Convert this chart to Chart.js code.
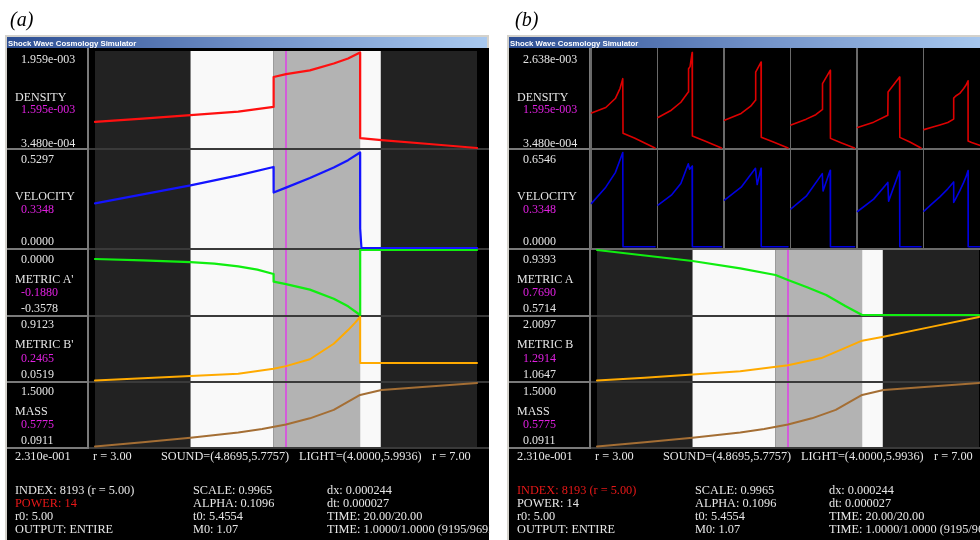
<!DOCTYPE html>
<html>
<head>
<meta charset="utf-8">
<script src="https://cdn.jsdelivr.net/npm/chart.js@4/dist/chart.umd.min.js"></script>
<style>
html, body { margin: 0; padding: 0; background: #fff; }
body { width: 980px; height: 540px; position: relative; overflow: hidden; }
.abs { position: absolute; }
.t { position: absolute; white-space: pre; line-height: 1; will-change: transform; }
</style>
</head>
<body>
<script>
// ---- radial domain, fronts and cursor -------------------------------------
const R_MIN = 3.0, R_MAX = 7.0;
const CURSOR_R = 5.00;
const LIGHT = [4.0000, 5.9936];
const SOUND = [4.8695, 5.7757];
const LOWER_LEFT = 2.310e-1;

// ---- final state (window a, and last snapshot of window b) ----------------
const densR = [3.0, 3.5, 4.0, 4.5, 4.8695, 4.8705, 5.0, 5.25, 5.5, 5.65, 5.7757, 5.7767, 6.0, 6.5, 7.0];
const densV = [7.89e-4, 8.45e-4, 9.02e-4, 9.61e-4, 1.041e-3, 1.545e-3, 1.595e-3, 1.657e-3, 1.774e-3, 1.858e-3, 1.959e-3, 5.16e-4, 4.82e-4, 4.15e-4, 3.48e-4];

const velR = [3.0, 3.5, 4.0, 4.5, 4.8695, 4.8705, 5.0, 5.25, 5.5, 5.65, 5.7757, 5.7767, 5.79, 7.0];
const velV = [0.2474, 0.2976, 0.347, 0.4025, 0.4494, 0.3075, 0.3348, 0.3877, 0.447, 0.487, 0.5297, 0.1092, 0.0, 0.0];

const metADR = [3.0, 3.5, 4.0, 4.25, 4.5, 4.7, 4.8695, 4.8705, 5.0, 5.25, 5.5, 5.65, 5.7757, 5.7767, 7.0];
const metADV = [-0.0495, -0.057, -0.067, -0.075, -0.090, -0.108, -0.132, -0.1745, -0.1880, -0.218, -0.268, -0.310, -0.3578, 0.0, 0.0];

const metBDR = [3.0, 3.5, 4.0, 4.5, 4.8695, 5.0, 5.25, 5.5, 5.65, 5.72, 5.7757, 5.7767, 7.0];
const metBDV = [0.0519, 0.083, 0.1134, 0.1434, 0.2117, 0.2465, 0.34, 0.55, 0.735, 0.83, 0.9123, 0.2882, 0.2882];

const massR = [3.0, 3.5, 4.0, 4.5, 4.75, 5.0, 5.25, 5.5, 5.7757, 6.0, 6.5, 7.0];
const massV = [0.0911, 0.185, 0.285, 0.40, 0.48, 0.5775, 0.716, 0.903, 1.234, 1.345, 1.42, 1.5];

const metAR = [3.0, 3.5, 4.0, 4.5, 4.8695, 5.0, 5.2, 5.4, 5.6, 5.7757, 7.0];
const metAV = [0.9393, 0.9082, 0.877, 0.8357, 0.7978, 0.7690, 0.7282, 0.6846, 0.6223, 0.5714, 0.5714];

const metBR = [3.0, 3.5, 4.0, 4.5, 5.0, 5.35, 5.63, 5.7757, 6.0, 6.5, 7.0];
const metBV = [1.0647, 1.107, 1.153, 1.2014, 1.2914, 1.3984, 1.5689, 1.657, 1.716, 1.863, 2.0097];

// ---- time snapshots (window b, top two rows) ------------------------------
const snapDensR = [
  [3.0, 3.9, 4.5, 4.8, 4.97, 4.985, 5.7, 7.0],
  [3.0, 3.84, 4.44, 4.91, 4.925, 5.02, 5.15, 5.165, 5.95, 7.0],
  [3.0, 4.05, 4.65, 4.95, 4.965, 5.30, 5.315, 6.16, 7.0],
  [3.0, 3.96, 4.56, 4.97, 4.985, 5.47, 5.485, 6.19, 7.0],
  [3.0, 4.02, 4.91, 4.925, 5.65, 5.665, 6.30, 7.0],
  densR
];
const snapDensV = [
  [1.190e-3, 1.319e-3, 1.534e-3, 1.779e-3, 2.011e-3, 6.99e-4, 5.87e-4, 3.48e-4],
  [1.080e-3, 1.254e-3, 1.445e-3, 1.691e-3, 2.25e-3, 2.30e-3, 2.638e-3, 6.34e-4, 5.15e-4, 3.48e-4],
  [1.016e-3, 1.176e-3, 1.350e-3, 1.493e-3, 2.168e-3, 2.407e-3, 6.03e-4, 4.79e-4, 3.48e-4],
  [8.97e-4, 1.040e-3, 1.147e-3, 1.271e-3, 1.891e-3, 2.209e-3, 5.79e-4, 4.67e-4, 3.48e-4],
  [8.42e-4, 9.68e-4, 1.135e-3, 1.691e-3, 2.049e-3, 6.03e-4, 4.91e-4, 3.48e-4],
  densV
];
const snapVelR = [
  [3.0, 3.9, 4.5, 4.97, 4.985, 7.0],
  [3.0, 3.84, 4.44, 4.91, 4.99, 5.15, 5.165, 7.0],
  [3.0, 4.05, 4.95, 5.06, 5.30, 5.315, 7.0],
  [3.0, 3.96, 4.97, 5.02, 5.47, 5.485, 7.0],
  [3.0, 4.02, 4.91, 4.96, 5.65, 5.665, 7.0],
  velR
];
const snapVelV = [
  [0.3016, 0.414, 0.515, 0.6546, 0.0, 0.0],
  [0.290, 0.358, 0.439, 0.576, 0.538, 0.560, 0.0, 0.0],
  [0.324, 0.414, 0.5446, 0.432, 0.5446, 0.0, 0.0],
  [0.263, 0.351, 0.508, 0.387, 0.531, 0.0, 0.0],
  [0.245, 0.331, 0.447, 0.317, 0.526, 0.0, 0.0],
  velV
];

// ---- status block ----------------------------------------------------------
const infoCol1 = ['INDEX: 8193 (r = 5.00)', 'POWER: 14', 'r0: 5.00', 'OUTPUT: ENTIRE'];
const infoCol2 = ['SCALE: 0.9965', 'ALPHA: 0.1096', 't0: 5.4554', 'M0: 1.07'];
const infoCol3 = ['dx: 0.000244', 'dt: 0.000027', 'TIME: 20.00/20.00', 'TIME: 1.0000/1.0000 (9195/9692)'];

// ---- look ------------------------------------------------------------------
const SERIF = '"Liberation Serif","Times New Roman",serif';
const TXT = '#e6e6e6', MAG = '#e020e0', RED = '#e81818';
const BAND_EDGES = [R_MIN, LIGHT[0], SOUND[0], SOUND[1], LIGHT[1], R_MAX];
const BAND_COLORS = ['#222222', '#f9f9f9', '#b3b3b3', '#f9f9f9', '#222222'];

// Row layout shared by both windows: value span and label baselines
const ROWS = [
  { vTop: 52.5, vBot: 148,   bTop: 51,  bBot: 148, base: [63.5, 101, 113.3, 146.7] },
  { vTop: 152.5, vBot: 248,  bTop: 150, bBot: 248, base: [162.7, 200, 213.3, 245] },
  { vTop: 250, vBot: 315,    bTop: 250, bBot: 315, base: [262.7, 282.7, 296, 312] },
  { vTop: 317, vBot: 380.5,  bTop: 317, bBot: 381, base: [328.3, 348.3, 361.7, 378.3] },
  { vTop: 383, vBot: 446.5,  bTop: 383, bBot: 447, base: [395, 415, 428.3, 444.5] }
];
const SEPS = [148, 248, 315, 381, 447];

function fmtExp(v) {
  const [m, e] = v.toExponential(3).split('e');
  const n = parseInt(e, 10);
  return m + 'e' + (n < 0 ? '-' : '+') + String(Math.abs(n)).padStart(3, '0');
}
function fmtFix(v) { return v.toFixed(4); }

// Background bands between the light and sound fronts plus the cursor line
const shading = {
  id: 'shading',
  beforeDatasetsDraw(chart, args, o) {
    const ctx = chart.ctx, xs = chart.scales.x;
    if (o.bands) {
      for (let i = 0; i < BAND_COLORS.length; i++) {
        const a = xs.getPixelForValue(BAND_EDGES[i]);
        const b = xs.getPixelForValue(BAND_EDGES[i + 1]);
        ctx.fillStyle = BAND_COLORS[i];
        ctx.fillRect(a, o.top, b - a, o.bottom - o.top);
      }
    }
    if (o.cursor) {
      const c = xs.getPixelForValue(CURSOR_R);
      ctx.fillStyle = '#e040e8';
      ctx.fillRect(c - 0.75, o.top, 1.5, o.bottom - o.top);
    }
  }
};

function makeWindow(L, W) {
  const el = document.createElement('div');
  el.className = 'abs';
  Object.assign(el.style, { left: L + 'px', top: '0px', width: W + 'px', height: '540px', overflow: 'hidden' });
  document.body.appendChild(el);
  return { el, L };
}
function box(win, x, y, w, h, bg) {
  const d = document.createElement('div');
  d.className = 'abs';
  Object.assign(d.style, { left: (x - win.L) + 'px', top: y + 'px', width: w + 'px', height: h + 'px', background: bg });
  win.el.appendChild(d);
  return d;
}
function txt(win, x, base, s, color, size, extra) {
  const d = document.createElement('div');
  d.className = 't';
  d.textContent = s;
  Object.assign(d.style, {
    left: (x - win.L) + 'px', top: (base - 0.8375 * size) + 'px',
    fontSize: size + 'px', color: color, fontFamily: SERIF
  });
  if (extra) Object.assign(d.style, extra);
  win.el.appendChild(d);
  return d;
}

function plot(win, spec) {
  const m = 4;
  const top = Math.min(spec.y0, spec.bTop ?? spec.y0);
  const bot = Math.max(spec.y1, spec.bBot ?? spec.y1);
  const cl = Math.floor(spec.x0) - m, ct = Math.floor(top) - m;
  const cw = Math.ceil(spec.x1) + m - cl, ch = Math.ceil(bot) + m - ct;
  const cv = document.createElement('canvas');
  cv.width = cw; cv.height = ch;
  Object.assign(cv.style, { position: 'absolute', left: (cl - win.L) + 'px', top: ct + 'px', width: cw + 'px', height: ch + 'px' });
  win.el.appendChild(cv);
  new Chart(cv, {
    type: 'line',
    data: {
      datasets: spec.series.map(s => ({
        data: s.r.map((r, i) => ({ x: r, y: s.v[i] })),
        borderColor: s.color, borderWidth: s.width,
        pointRadius: 0, fill: false, tension: 0, clip: m,
        borderJoinStyle: 'round', borderCapStyle: 'round'
      }))
    },
    options: {
      responsive: false, animation: false, devicePixelRatio: 1, events: [],
      layout: { padding: { left: spec.x0 - cl, right: cl + cw - spec.x1, top: spec.y0 - ct, bottom: ct + ch - spec.y1 } },
      scales: {
        x: { type: 'linear', min: R_MIN, max: R_MAX, display: false },
        y: { type: 'linear', min: spec.yMin, max: spec.yMax, display: false }
      },
      plugins: {
        legend: { display: false }, tooltip: { enabled: false },
        shading: { bands: !!spec.bands, cursor: !!spec.bands, top: (spec.bTop ?? 0) - ct, bottom: (spec.bBot ?? 0) - ct }
      }
    },
    plugins: [shading]
  });
}

function buildWindow(cfg) {
  const ox = cfg.ox;
  const win = makeWindow(ox + 5, cfg.width);
  // frame, title bar, client area
  box(win, ox + 5, 35, 484, 505, '#d4d2cc');
  box(win, ox + 7, 37, 480, 11, 'linear-gradient(90deg, #2c4d92 0%, #6f8fc6 50%, #a9c9ef 100%)');
  const tt = document.createElement('div');
  tt.className = 't';
  tt.textContent = 'Shock Wave Cosmology Simulator';
  Object.assign(tt.style, { left: (ox + 8 - win.L) + 'px', top: (46.5 - 0.8465 * 7.8) + 'px', fontSize: '7.8px',
    fontWeight: 'bold', color: '#fff', fontFamily: '"Liberation Sans", Arial, sans-serif' });
  win.el.appendChild(tt);
  box(win, ox + 7, 48, 482, 492, '#000');

  // separators
  box(win, ox + 87, 48, 2, 401, '#7a7a7a');
  SEPS.forEach((y, i) => {
    box(win, ox + 7, y, 81, 2, '#7a7a7a');
    const light = cfg.snapshots && i < 2;
    box(win, ox + 89, y, 400, 2, light ? '#6a6a6a' : '#3a3a3a');
  });

  const x0 = ox + 95, x1 = ox + 477;
  cfg.panels.forEach((p, i) => {
    const row = ROWS[i];
    if (!(cfg.snapshots && i < 2)) {
      plot(win, { x0, x1, y0: row.vTop, y1: row.vBot, bTop: row.bTop, bBot: row.bBot, bands: true,
        yMin: p.min, yMax: p.max, series: [{ r: p.r, v: p.v, color: p.color, width: p.width }] });
    }
    const f = p.fmt === 'exp' ? fmtExp : fmtFix;
    txt(win, ox + 21, row.base[0], f(p.max), TXT, 12);
    txt(win, ox + 14.7, row.base[1], p.name, TXT, 12);
    txt(win, ox + 21, row.base[2], f(p.cur), MAG, 12);
    txt(win, ox + 21, row.base[3], f(p.min), TXT, 12);
  });

  if (cfg.snapshots) {
    const step = 66.5;
    for (let k = 0; k < snapDensR.length; k++) {
      const left = ox + 88 + k * step;
      box(win, left, 48, 1.5, 200, '#6a6a6a');
      const d = cfg.panels[0], v = cfg.panels[1];
      plot(win, { x0: left + 1.5, x1: left + 65, y0: ROWS[0].vTop, y1: ROWS[0].vBot,
        yMin: d.min, yMax: d.max, series: [{ r: snapDensR[k], v: snapDensV[k], color: '#dd0000', width: 1.6 }] });
      plot(win, { x0: left + 1.5, x1: left + 65, y0: ROWS[1].vTop, y1: 246.8,
        yMin: v.min, yMax: v.max, series: [{ r: snapVelR[k], v: snapVelV[k], color: '#0000e0', width: 1.6 }] });
    }
  }

  // readout under the plots
  const s = 12.3;
  txt(win, ox + 15, 460, fmtExp(LOWER_LEFT), TXT, s);
  txt(win, ox + 93, 460, 'r = ' + R_MIN.toFixed(2), TXT, s);
  txt(win, ox + 161, 460, 'SOUND=(' + SOUND[0].toFixed(4) + ',' + SOUND[1].toFixed(4) + ')', TXT, s);
  txt(win, ox + 299, 460, 'LIGHT=(' + LIGHT[0].toFixed(4) + ',' + LIGHT[1].toFixed(4) + ')', TXT, s);
  txt(win, ox + 432, 460, 'r = ' + R_MAX.toFixed(2), TXT, s);

  const bases = [494, 507, 520, 533];
  bases.forEach((b, i) => {
    txt(win, ox + 15, b, infoCol1[i], i === cfg.redLine ? RED : TXT, s);
    txt(win, ox + 193, b, infoCol2[i], TXT, s);
    txt(win, ox + 327, b, infoCol3[i], TXT, s);
  });
}

// figure letters
(function () {
  const root = { el: document.body, L: 0 };
  txt(root, 10, 26, '(a)', '#000', 20, { fontStyle: 'italic' });
  txt(root, 515, 26, '(b)', '#000', 20, { fontStyle: 'italic' });
})();

const massPanel = { name: 'MASS', min: 0.0911, max: 1.5, cur: 0.5775, fmt: 'fix', r: massR, v: massV, color: '#a46e34', width: 2 };

buildWindow({
  ox: 0, width: 485, snapshots: false, redLine: 1,
  panels: [
    { name: 'DENSITY', min: 3.480e-4, max: 1.959e-3, cur: 1.595e-3, fmt: 'exp', r: densR, v: densV, color: '#ff1010', width: 2.2 },
    { name: 'VELOCITY', min: 0.0, max: 0.5297, cur: 0.3348, fmt: 'fix', r: velR, v: velV, color: '#1414ff', width: 2.2 },
    { name: "METRIC A'", min: -0.3578, max: 0.0, cur: -0.1880, fmt: 'fix', r: metADR, v: metADV, color: '#10ee10', width: 2.2 },
    { name: "METRIC B'", min: 0.0519, max: 0.9123, cur: 0.2465, fmt: 'fix', r: metBDR, v: metBDV, color: '#ffaa00', width: 2 },
    massPanel
  ]
});

buildWindow({
  ox: 502, width: 473, snapshots: true, redLine: 0,
  panels: [
    { name: 'DENSITY', min: 3.480e-4, max: 2.638e-3, cur: 1.595e-3, fmt: 'exp' },
    { name: 'VELOCITY', min: 0.0, max: 0.6546, cur: 0.3348, fmt: 'fix' },
    { name: 'METRIC A', min: 0.5714, max: 0.9393, cur: 0.7690, fmt: 'fix', r: metAR, v: metAV, color: '#10ee10', width: 2.2 },
    { name: 'METRIC B', min: 1.0647, max: 2.0097, cur: 1.2914, fmt: 'fix', r: metBR, v: metBV, color: '#ffaa00', width: 2 },
    massPanel
  ]
});
</script>
</body>
</html>
